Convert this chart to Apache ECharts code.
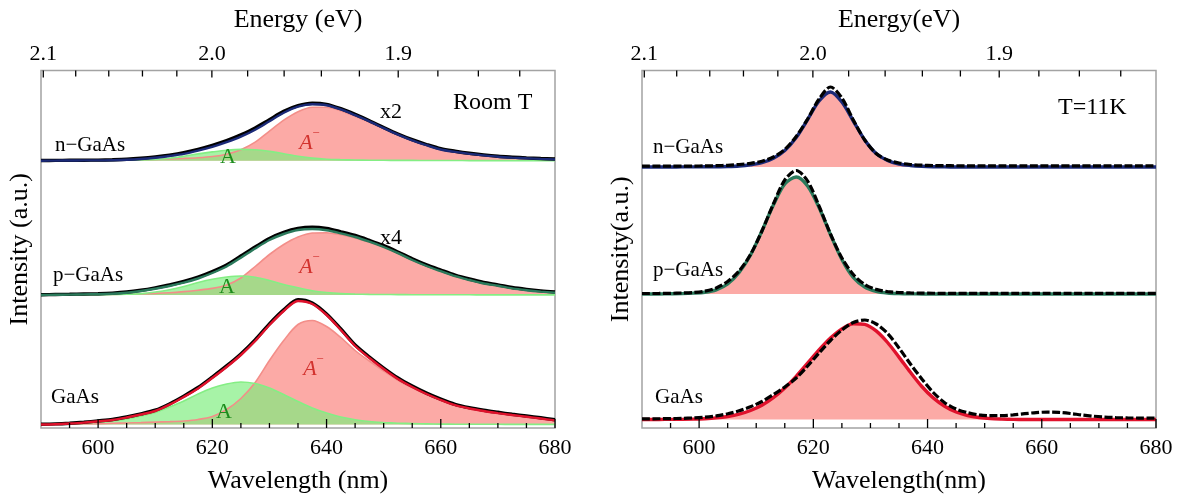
<!DOCTYPE html>
<html>
<head>
<meta charset="utf-8">
<script src="https://cdn.jsdelivr.net/npm/echarts@6/dist/echarts.min.js"></script>
<style>
  html, body { margin: 0; padding: 0; background: #fff; }
  #chart { width: 1184px; height: 499px; }
</style>
</head>
<body>
<div id="chart"></div>
<script>
// ---------------- Wavelength grids (nm) ----------------
const wlRT = [590, 592.5, 595, 597.5, 600, 602.5, 605, 607.5, 610, 612.5, 615, 617.5, 620, 622.5, 625, 627.5,
  630, 632.5, 635, 637.5, 640, 642.5, 645, 647.5, 650, 652.5, 655, 657.5, 660, 662.5, 665, 667.5, 670, 672.5,
  675, 677.5, 680];
const wl11K = [590, 591, 593, 595, 597, 599, 601, 603, 605, 607, 609, 611, 613, 615, 617, 619, 621, 623, 625, 627,
  629, 631, 633, 635, 637, 639, 641, 643, 645, 647, 649, 651, 653, 655, 657, 659, 661, 663, 665, 667,
  669, 671, 673, 675, 677, 679, 680];

// ---------------- Room temperature spectra (a.u., above each trace's own baseline) ----------------
// n-GaAs (x2)
const nRT_data = [0.2, 0.3, 0.4, 0.5, 0.6, 0.9, 1.4, 2.4, 3.8, 5.6, 8, 11.3, 15.3, 20, 25.8, 32.6, 41, 49.3, 55, 57.5,
  56.4, 52, 46.3, 40, 33.2, 26.7, 21, 16.2, 12, 9.5, 7.4, 5.8, 4.5, 3.6, 2.8, 2.2, 1.7];
const nRT_fit = [0, 0.1, 0.2, 0.3, 0.3, 0.5, 0.9, 1.7, 3, 4.7, 6.8, 10, 13.8, 18.5, 24, 31, 39.5, 48, 54, 56.5,
  55.5, 51.3, 45.5, 39.3, 32.5, 26, 20.3, 15.5, 11.2, 8.8, 6.8, 5.3, 4, 3.1, 2.4, 1.8, 1.3];
const nRT_A = [0, 0, 0.1, 0.1, 0.2, 0.3, 0.5, 0.8, 1.3, 2.5, 4.5, 6.8, 8.8, 10.5, 11.3, 10.9, 9.3, 7, 4.5, 2.6,
  1.5, 1, 0.7, 0.5, 0.4, 0.3, 0.3, 0.2, 0.2, 0.2, 0.1, 0.1, 0.1, 0.1, 0.1, 0.1, 0.1];
const nRT_Aminus = [0, 0.1, 0.1, 0.2, 0.2, 0.3, 0.5, 0.8, 1.2, 1.8, 2.3, 3, 4.2, 6.5, 11, 18.5, 29.5, 40.5, 49, 53.5,
  53.5, 50, 44.5, 38.5, 32, 25.7, 20, 15.2, 11, 8.6, 6.6, 5.1, 3.9, 3, 2.3, 1.7, 1.2];
// p-GaAs (x4)
const pRT_data = [0.3, 0.5, 0.7, 1, 1.3, 1.9, 3, 4.8, 7.2, 10, 13.5, 17.8, 23.4, 30, 39, 48, 56.5, 62.6, 66.5, 67.8,
  66.5, 63.2, 59.5, 54.6, 49.3, 43, 36.3, 30.2, 25, 20, 16, 12.6, 10.2, 7.5, 5.6, 4.1, 3];
const pRT_fit = [0, 0.2, 0.4, 0.6, 0.8, 1.3, 2.3, 4, 6.3, 9, 12.3, 16.5, 22, 28.5, 37.3, 46.5, 55, 61, 65, 66,
  64.8, 61.6, 58, 53.3, 48, 41.8, 35, 29, 23.8, 18.8, 15, 11.5, 9.2, 6.6, 4.8, 3.4, 2.3];
const pRT_A = [0, 0.1, 0.1, 0.2, 0.3, 0.5, 0.8, 1.4, 3, 5.3, 8.5, 12.5, 15.8, 18, 19, 17.8, 14.5, 10.5, 7.2, 4.3,
  2.5, 1.4, 0.9, 0.6, 0.5, 0.4, 0.3, 0.3, 0.2, 0.2, 0.2, 0.1, 0.1, 0.1, 0.1, 0.1, 0.1];
const pRT_Aminus = [0, 0.1, 0.2, 0.3, 0.4, 0.6, 0.9, 1.2, 1.6, 2.3, 3.4, 4.8, 6.6, 10, 17, 28.5, 40.5, 50.5, 58, 62,
  62.3, 60.2, 57, 52.7, 47.5, 41.4, 34.7, 28.7, 23.6, 18.6, 14.8, 11.4, 9, 6.5, 4.7, 3.3, 2.2];
// GaAs
const gRT_data = [0.3, 0.6, 1.3, 2.3, 3.6, 5, 7.5, 10.6, 14.3, 20.6, 28.4, 37, 47.5, 58.6, 70.6, 84.6, 100.6, 114.6,
  124.8, 121.6, 110.6, 95.5, 79.5, 67.5, 56.5, 46.5, 38.4, 31.4, 25.4, 20.2, 16.8, 14.3, 12.2, 10.2, 8.5, 6.7, 4.8];
const gRT_fit = [0, 0.3, 1, 1.9, 3.2, 4.5, 7, 10, 13.5, 19.8, 27.5, 36, 46.5, 57.5, 69.5, 83.5, 99.5, 113.5, 123.5,
  120.5, 109.5, 94.5, 78.5, 66.5, 55.5, 45.5, 37.5, 30.5, 24.5, 19.3, 16, 13.5, 11.4, 9.5, 7.8, 6, 4.1];
const gRT_A = [0.1, 0.3, 0.7, 1.3, 2.2, 3.5, 5.5, 8.5, 12, 17.5, 23.5, 30.5, 36.5, 40.5, 42.5, 41, 36.5, 30, 23, 16.5,
  11.5, 7.5, 4.8, 3, 2, 1.3, 0.9, 0.6, 0.4, 0.3, 0.3, 0.2, 0.2, 0.1, 0.1, 0.1, 0.1];
const gRT_Aminus = [0.2, 0.3, 0.5, 0.7, 0.9, 1.2, 1.5, 1.9, 2.4, 2.8, 3.5, 5, 8, 15, 26, 42, 64, 84, 100, 104,
  98, 87, 74, 63.5, 53.5, 44.2, 36.6, 29.9, 24.1, 19, 15.7, 13.3, 11.2, 9.4, 7.7, 5.9, 4];

// ---------------- T = 11 K spectra ----------------
const n11_data = [0.8, 0.8, 0.8, 0.8, 0.85, 0.95, 1.1, 1.35, 1.7, 2.5, 3.7, 5.8, 10, 17.5, 30.5, 48, 68, 80, 69, 47,
  27, 13.5, 7, 4, 2.5, 1.8, 1.5, 1.35, 1.25, 1.2, 1.2, 1.2, 1.2, 1.2, 1.2, 1.2, 1.2, 1.2, 1.2, 1.2,
  1.2, 1.2, 1.2, 1.2, 1.2, 1.2, 1.2];
const n11_fit = [0, 0, 0, 0, 0.1, 0.1, 0.2, 0.3, 0.5, 1, 2.2, 4.3, 8.8, 16.5, 29.5, 47.5, 66, 75, 65, 46,
  27, 13.5, 6.5, 3, 1.5, 0.7, 0.3, 0.1, 0, 0, 0, 0, 0, 0, 0, 0, 0, 0, 0, 0,
  0, 0, 0, 0, 0, 0, 0];
const p11_data = [0.5, 0.5, 0.55, 0.7, 1, 1.5, 2.8, 6, 12.5, 23, 39.5, 63, 90, 114, 123.5, 113, 88, 60, 36, 19.5,
  9.5, 4.6, 2.4, 1.5, 1.05, 0.85, 0.75, 0.7, 0.7, 0.7, 0.7, 0.7, 0.7, 0.7, 0.7, 0.7, 0.7, 0.7, 0.7, 0.7,
  0.7, 0.7, 0.7, 0.7, 0.7, 0.7, 0.7];
const p11_fit = [0, 0, 0.05, 0.2, 0.4, 0.9, 1.8, 4.2, 10, 21.5, 39, 63, 89, 110, 117, 108, 86.5, 59.5, 34.5, 16.5,
  7, 2.7, 1, 0.4, 0.15, 0.05, 0, 0, 0, 0, 0, 0, 0, 0, 0, 0, 0, 0, 0, 0,
  0, 0, 0, 0, 0, 0, 0];
const g11_data = [0.6, 0.65, 0.75, 0.9, 1.15, 1.55, 2.3, 3.6, 5.7, 8.7, 12.7, 18, 25, 32.5, 41.5, 53.5, 66.5, 79, 89.5, 97,
  99.5, 95.5, 86, 71.5, 55.5, 40.5, 27, 16.8, 10.5, 6.9, 4.6, 3.8, 3.9, 4.6, 5.8, 6.9, 7.4, 7.1, 6, 4.5,
  3.3, 2.4, 1.9, 1.6, 1.45, 1.35, 1.3];
const g11_fit = [0, 0, 0.05, 0.1, 0.15, 0.35, 0.8, 1.6, 3, 5.3, 9, 14.3, 21.8, 31.5, 43.2, 56.3, 69.5, 81.4, 90.6, 95.8,
  95.2, 88.6, 77, 62.4, 47.2, 33, 21.6, 13.3, 7.5, 4, 2, 0.9, 0.4, 0.1, 0, 0, 0, 0, 0, 0,
  0, 0, 0, 0, 0, 0, 0];

// ---------------- Axis ticks ----------------
const wlMajor = [600, 620, 640, 660, 680];
const wlMinor = [595, 605, 610, 615, 625, 630, 635, 645, 650, 655, 665, 670, 675];
const energyMinor = [2.08, 2.06, 2.04, 2.02, 1.98, 1.96, 1.94, 1.92, 1.88, 1.86, 1.84];
const energyMajor = [2.1, 2.0, 1.9];

// ---------------- Layout & styles ----------------
const HC = 1239.84;            // eV·nm, photon energy <-> wavelength
const Y_MAX = 357.5;           // vertical extent of each frame (1 unit = 1 px)
const OFFSET_RT = { n: 267.3, p: 133, g: 3.5 };   // vertical shifts of the stacked traces
const OFFSET_11K = { n: 261, p: 134, g: 8.5 };
const FONT = "'Liberation Serif', 'DejaVu Serif', serif";
const PINK_FILL = '#fcaaa6';
const PINK_LINE = '#f38e89';
const GREEN_FILL = 'rgba(126,238,126,0.68)';
const GREEN_LINE = '#84ee84';
const BLUE = '#1b2a78';
const TEAL = '#2b7a5c';
const RED = '#e0122c';

function curve(gi, wl, vals, off, color, width, dash, fill) {
  const s = { type: 'line', xAxisIndex: gi * 2, yAxisIndex: gi, symbol: 'none', smooth: 0.3,
    data: wl.map((w, i) => [w, vals[i] + off]),
    lineStyle: { color: color, width: width, type: dash || 'solid' } };
  if (fill) s.areaStyle = { color: fill, opacity: 1, origin: off };
  return s;
}
function traceRT(off, data, fit, A, Am, color) {
  return [
    curve(0, wlRT, Am, off, PINK_LINE, 1.6, null, PINK_FILL),
    curve(0, wlRT, A, off, GREEN_LINE, 1.6, null, GREEN_FILL),
    curve(0, wlRT, data, off, '#000', 3.4),
    curve(0, wlRT, fit, off, color, 2.4)
  ];
}
function trace11K(off, data, fit, color) {
  return [
    curve(1, wl11K, fit, off, color, 3.4, null, PINK_FILL),
    curve(1, wl11K, data, off, '#000', 3.2, [8, 2.5])
  ];
}
// inward tick marks as short broken-line segments at the given wavelengths
function tickLines(gi, positions, yFrom, yTo) {
  const data = [];
  positions.forEach(x => { data.push([x, yFrom], [x, yTo], [x, '-']); });
  return { type: 'line', xAxisIndex: gi * 2, yAxisIndex: gi, symbol: 'none', smooth: false,
    connectNulls: false, silent: true, z: 6, data: data,
    lineStyle: { color: '#000', width: 1.3 } };
}
function frameTicks(gi) {
  return [
    tickLines(gi, wlMajor, 0, 9),
    tickLines(gi, wlMinor, 0, 5),
    tickLines(gi, energyMajor.map(e => HC / e), Y_MAX, Y_MAX - 7),
    tickLines(gi, energyMinor.map(e => HC / e), Y_MAX, Y_MAX - 6)
  ];
}
// photon-energy labels above the top edge, placed at the matching wavelength
function energyLabelSeries(gi) {
  return {
    type: 'custom', xAxisIndex: gi * 2, yAxisIndex: gi,
    data: energyMajor.map(e => [HC / e, e]),
    renderItem(params, api) {
      const top = api.coord([api.value(0), Y_MAX]);
      return { type: 'text', x: top[0], y: top[1] - 16,
        style: { text: api.value(1).toFixed(1), fontFamily: FONT, fontSize: 22, fill: '#000',
          align: 'center', verticalAlign: 'middle' } };
    }
  };
}
function txt(x, y, text, o) {
  o = o || {};
  return { type: 'text', x: x, y: y, silent: true, z: 100,
    style: { text: text, fontFamily: FONT, fontSize: o.size || 21, fill: o.color || '#000',
      fontStyle: o.italic ? 'italic' : 'normal', align: o.align || 'left', verticalAlign: 'middle' } };
}
function aMinus(x, y) {
  return [
    txt(x, y, 'A', { size: 22, color: '#d2322e', italic: true, align: 'center' }),
    txt(x + 10, y - 9, '\u2212', { size: 13, color: '#d2322e', align: 'center' })
  ];
}

function bottomAxis(gi, name) {
  return { type: 'value', gridIndex: gi, position: 'bottom', min: 590, max: 680,
    axisLine: { show: false }, axisTick: { show: false }, splitLine: { show: false },
    axisLabel: { fontFamily: FONT, fontSize: 22, color: '#000', margin: 9, showMinLabel: false },
    name: name, nameLocation: 'middle', nameGap: 40,
    nameTextStyle: { fontFamily: FONT, fontSize: 26, color: '#000' } };
}
function topAxis(gi, name) {
  return { type: 'value', gridIndex: gi, position: 'top', min: 590, max: 680,
    axisLine: { show: false }, axisTick: { show: false }, splitLine: { show: false }, axisLabel: { show: false },
    name: name, nameLocation: 'middle', nameGap: 37,
    nameTextStyle: { fontFamily: FONT, fontSize: 26, color: '#000' } };
}
function leftAxis(gi, name) {
  return { type: 'value', gridIndex: gi, min: 0, max: Y_MAX,
    axisLine: { show: false }, axisTick: { show: false }, splitLine: { show: false }, axisLabel: { show: false },
    name: name, nameLocation: 'middle', nameGap: 8,
    nameTextStyle: { fontFamily: FONT, fontSize: 26, color: '#000' } };
}

const chart = echarts.init(document.getElementById('chart'), null, { renderer: 'canvas' });
chart.setOption({
  animation: false,
  backgroundColor: '#fff',
  grid: [
    { left: 41, right: 629, top: 70.5, bottom: 71, show: true, borderColor: '#a3a3a3', borderWidth: 1.5 },
    { left: 642, right: 28, top: 70.5, bottom: 71, show: true, borderColor: '#a3a3a3', borderWidth: 1.5 }
  ],
  xAxis: [
    bottomAxis(0, 'Wavelength (nm)'), topAxis(0, 'Energy (eV)'),
    bottomAxis(1, 'Wavelength(nm)'), topAxis(1, 'Energy(eV)')
  ],
  yAxis: [leftAxis(0, 'Intensity (a.u.)'), leftAxis(1, 'Intensity(a.u.)')],
  series: [
    ...traceRT(OFFSET_RT.g, gRT_data, gRT_fit, gRT_A, gRT_Aminus, RED),
    ...traceRT(OFFSET_RT.p, pRT_data, pRT_fit, pRT_A, pRT_Aminus, TEAL),
    ...traceRT(OFFSET_RT.n, nRT_data, nRT_fit, nRT_A, nRT_Aminus, BLUE),
    ...trace11K(OFFSET_11K.g, g11_data, g11_fit, RED),
    ...trace11K(OFFSET_11K.p, p11_data, p11_fit, TEAL),
    ...trace11K(OFFSET_11K.n, n11_data, n11_fit, BLUE),
    ...frameTicks(0), ...frameTicks(1),
    energyLabelSeries(0), energyLabelSeries(1)
  ],
  graphic: [
    txt(55, 145, 'n\u2212GaAs'),
    txt(53, 275, 'p\u2212GaAs'),
    txt(51, 397, 'GaAs'),
    txt(453, 103, 'Room T', { size: 24 }),
    txt(380, 112, 'x2', { size: 22 }),
    txt(380, 238, 'x4', { size: 22 }),
    txt(228, 157, 'A', { size: 22, color: '#1d8c1d', align: 'center' }),
    txt(227, 287, 'A', { size: 22, color: '#1d8c1d', align: 'center' }),
    txt(224, 412, 'A', { size: 22, color: '#1d8c1d', align: 'center' }),
    ...aMinus(306, 143),
    ...aMinus(306, 267),
    ...aMinus(310, 369),
    txt(653, 147, 'n\u2212GaAs'),
    txt(653, 270, 'p\u2212GaAs'),
    txt(655, 397, 'GaAs'),
    txt(1058, 108, 'T=11K', { size: 24 })
  ]
});
</script>
</body>
</html>
